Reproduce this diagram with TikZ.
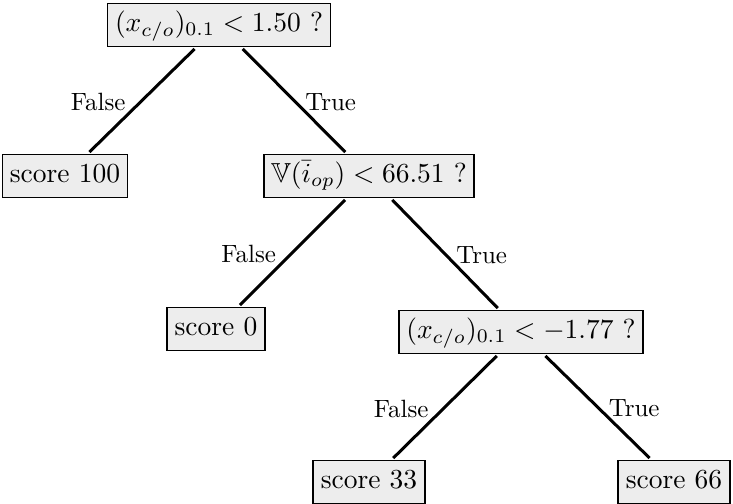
\documentclass[tikz,border=0pt]{standalone}
\usepackage{amssymb}
\begin{document}
\begin{tikzpicture}[x=1pt,y=-1pt,
  box/.style={draw=black, line width=1.8pt, fill=black!7, scale=2.75, transform shape, inner xsep=2.7pt, inner ysep=2.8pt, text height=7.3pt, text depth=2.7pt},
  edge/.style={line width=3pt},
  lab/.style={scale=2.5, transform shape, inner sep=1.5pt},
  labl/.style={lab, left, xshift=-3.6pt, yshift=-0.6pt},
  labr/.style={lab, right, xshift=1.5pt, yshift=-0.5pt}]
\useasboundingbox (0,0) rectangle (733,503);
\node[box] (root) at (219,25) {$(x_{c/o})_{0.1} < 1.50$ ?};
\node[box] (s100) at (65,176) {score 100};
\node[box] (v) at (369,176) {$\mathbb{V}(\bar{i}_{op}) < 66.51$ ?};
\node[box] (s0) at (216,329) {score 0};
\node[box] (x2) at (521,332) {$(x_{c/o})_{0.1} < -1.77$ ?};
\node[box] (s33) at (369,482) {score 33};
\node[box] (s66) at (674,482) {score 66};
\draw[edge] (root) -- node[labl,midway] {False} (s100);
\draw[edge] (root) -- node[labr,midway] {True} (v);
\draw[edge] (v) -- node[labl,midway] {False} (s0);
\draw[edge] (v) -- node[labr,midway] {True} (x2);
\draw[edge] (x2) -- node[labl,midway] {False} (s33);
\draw[edge] (x2) -- node[labr,midway] {True} (s66);
\end{tikzpicture}
\end{document}
